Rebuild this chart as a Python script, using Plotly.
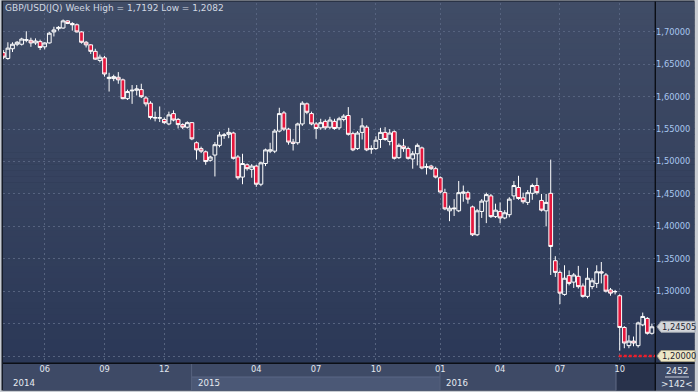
import plotly.graph_objects as go

# ---------------- data (weekly GBP/USD bars) ----------------
opens = [1.668,1.659,1.674,1.681,1.681,1.687,1.687,1.683,1.685,1.677,
         1.683,1.700,1.705,1.706,1.717,1.713,1.711,1.700,1.684,1.680,
         1.670,1.656,1.660,1.628,1.628,1.630,1.626,1.597,1.609,1.610,
         1.611,1.598,1.590,1.567,1.567,1.565,1.558,1.574,1.565,1.557,
         1.553,1.560,1.529,1.520,1.515,1.502,1.510,1.525,1.540,1.542,
         1.544,1.507,1.476,1.495,1.488,1.493,1.465,1.497,1.516,1.516,
         1.547,1.575,1.550,1.530,1.529,1.558,1.589,1.574,1.558,1.552,
         1.562,1.553,1.562,1.552,1.565,1.571,1.543,1.520,1.545,1.553,
         1.519,1.520,1.534,1.545,1.531,1.546,1.506,1.524,1.520,1.504,
         1.512,1.521,1.491,1.493,1.489,1.475,1.452,1.424,1.427,1.424,
         1.451,1.452,1.430,1.387,1.423,1.439,1.447,1.415,1.423,1.413,
         1.418,1.447,1.460,1.444,1.437,1.451,1.463,1.440,1.424,1.451,
         1.347,1.329,1.295,1.324,1.314,1.323,1.308,1.292,1.307,1.312,
         1.330,1.325,1.302,1.299,1.293,1.244,1.216,1.223,1.216,1.248,
         1.258,1.235]
highs = [1.672,1.684,1.684,1.686,1.691,1.701,1.691,1.690,1.688,1.684,
         1.700,1.708,1.709,1.7192,1.718,1.715,1.713,1.701,1.686,1.681,
         1.674,1.665,1.663,1.637,1.634,1.638,1.628,1.611,1.618,1.618,
         1.620,1.601,1.593,1.577,1.585,1.568,1.577,1.579,1.567,1.559,
         1.562,1.561,1.531,1.523,1.517,1.509,1.530,1.546,1.544,1.552,
         1.546,1.510,1.512,1.497,1.496,1.495,1.500,1.520,1.529,1.550,
         1.583,1.578,1.552,1.535,1.560,1.593,1.591,1.577,1.561,1.566,
         1.565,1.569,1.566,1.569,1.573,1.584,1.546,1.547,1.567,1.556,
         1.525,1.539,1.552,1.553,1.550,1.548,1.528,1.535,1.523,1.516,
         1.528,1.523,1.497,1.495,1.492,1.477,1.458,1.432,1.442,1.470,
         1.463,1.455,1.432,1.427,1.442,1.452,1.450,1.435,1.437,1.425,
         1.445,1.470,1.478,1.452,1.456,1.466,1.475,1.450,1.450,1.503,
         1.354,1.332,1.340,1.332,1.328,1.339,1.312,1.336,1.320,1.340,
         1.345,1.328,1.305,1.302,1.295,1.246,1.232,1.230,1.253,1.267,
         1.260,1.250]
lows = [1.658,1.657,1.669,1.678,1.679,1.684,1.677,1.680,1.672,1.673,
        1.682,1.693,1.702,1.705,1.712,1.702,1.699,1.682,1.676,1.666,
        1.657,1.653,1.631,1.608,1.624,1.620,1.596,1.595,1.589,1.602,
        1.598,1.585,1.565,1.562,1.561,1.558,1.556,1.562,1.551,1.550,
        1.551,1.533,1.503,1.513,1.495,1.500,1.477,1.522,1.535,1.536,
        1.503,1.472,1.465,1.486,1.475,1.461,1.462,1.493,1.513,1.513,
        1.545,1.547,1.526,1.517,1.526,1.555,1.573,1.556,1.535,1.549,
        1.549,1.550,1.549,1.549,1.562,1.540,1.516,1.518,1.534,1.516,
        1.512,1.518,1.521,1.532,1.525,1.503,1.504,1.515,1.503,1.489,
        1.494,1.488,1.480,1.487,1.474,1.451,1.425,1.408,1.416,1.422,
        1.438,1.435,1.385,1.385,1.413,1.405,1.413,1.413,1.405,1.411,
        1.414,1.441,1.441,1.435,1.433,1.441,1.449,1.423,1.400,1.325,
        1.322,1.280,1.293,1.309,1.305,1.304,1.290,1.289,1.303,1.305,
        1.312,1.298,1.293,1.295,1.2082,1.212,1.212,1.215,1.213,1.246,
        1.233,1.233]
closes = [1.661,1.675,1.681,1.684,1.689,1.688,1.683,1.686,1.676,1.683,
          1.698,1.703,1.707,1.717,1.713,1.711,1.700,1.684,1.680,1.670,
          1.658,1.661,1.635,1.630,1.631,1.626,1.597,1.608,1.610,1.612,
          1.600,1.589,1.568,1.568,1.5675,1.560,1.572,1.564,1.557,1.553,
          1.560,1.535,1.518,1.516,1.500,1.507,1.526,1.541,1.541,1.545,
          1.505,1.475,1.497,1.489,1.493,1.465,1.498,1.518,1.518,1.547,
          1.574,1.550,1.530,1.528,1.558,1.590,1.576,1.558,1.551,1.560,
          1.552,1.564,1.551,1.566,1.570,1.542,1.518,1.544,1.555,1.518,
          1.520,1.533,1.545,1.534,1.544,1.505,1.525,1.520,1.505,1.512,
          1.525,1.490,1.492,1.489,1.476,1.453,1.427,1.428,1.428,1.452,
          1.453,1.442,1.387,1.424,1.439,1.449,1.415,1.425,1.413,1.421,
          1.442,1.463,1.443,1.438,1.452,1.463,1.452,1.425,1.437,1.369,
          1.329,1.297,1.320,1.312,1.325,1.307,1.292,1.320,1.316,1.330,
          1.328,1.300,1.297,1.2995,1.244,1.220,1.223,1.220,1.251,1.261,
          1.235,1.24505]

month_tick_idx = [9, 22, 35, 55, 68, 81, 95, 108, 121, 134]
month_labels = ["06", "09", "12", "04", "07", "10", "01", "04", "07", "10"]
year_start_idx = [0, 41, 95]
year_labels = ["2014", "2015", "2016"]
price_ticks = [1.20, 1.25, 1.30, 1.35, 1.40, 1.45, 1.50, 1.55, 1.60, 1.65, 1.70]
alarm_level = 1.20
total_bars = 2452
symbol = "GBP/USD(JQ) Week"

# ---------------- geometry helpers ----------------
W, H = 698, 392
L, R, T, B = 3, 43, 3, 29
PW, PH = W - L - R, H - T - B
x_range = [-0.065, 141.67]
y_range = [1.1892, 1.7446]
FONT = "DejaVu Sans"

def xp(px):
    return (px - L) / PW

def yp(py):
    return 1 - (py - T) / PH

def fmt(v, d):
    return f"{v:.{d}f}".replace(".", ",")

def mix(c0, c1, a):
    return "rgb(%d,%d,%d)" % tuple(round(c0[i] + (c1[i] - c0[i]) * a) for i in range(3))

shapes = []
annotations = []

def rect(px0, py0, px1, py1, fill, layer="below", line=None):
    shapes.append(dict(type="rect", xref="paper", yref="paper",
                       x0=xp(px0), x1=xp(px1), y0=yp(py1), y1=yp(py0),
                       fillcolor=fill, line=dict(width=0) if line is None else line,
                       layer=layer))

def hline(px0, px1, py, color, width=1, layer="below", dash=None):
    shapes.append(dict(type="line", xref="paper", yref="paper",
                       x0=xp(px0), x1=xp(px1), y0=yp(py), y1=yp(py),
                       line=dict(color=color, width=width, dash=dash), layer=layer))

def vline(px, py0, py1, color, width=1, layer="below"):
    shapes.append(dict(type="line", xref="paper", yref="paper",
                       x0=xp(px), x1=xp(px), y0=yp(py0), y1=yp(py1),
                       line=dict(color=color, width=width), layer=layer))

# outer frame
rect(1.5, 0.5, 694.5, 390.5, "#141a27")
# vertical gradient over plot + price panel
top_c, bot_c = (64, 76, 102), (43, 56, 87)
n = 60
span = 363 - 1.5
for k in range(n):
    py0 = 1.5 + span * k / n
    py1 = 1.5 + span * (k + 1) / n + 0.6
    rect(3, py0, 694.5, min(py1, 363), mix(top_c, bot_c, (k + 0.5) / n))

# time axis band
rect(3, 363, 694.5, 390.5, "#3e4a66")
px_per_bar = PW / (x_range[1] - x_range[0])
def idx_px(i):
    return L + (i - x_range[0]) * px_per_bar
yb = [idx_px(i - 0.07) for i in year_start_idx] + [655]
yb[0] = 3
for k in range(len(year_labels)):
    if k % 2 == 1:
        rect(yb[k], 377, yb[k + 1], 390.5, "#4b5876")
        hline(yb[k], yb[k + 1], 377, "#5a6785")
    if k > 0:
        vline(yb[k], 363, 390.5, "#56627e")
# current-period box in the time band
rect(616, 363.5, 655, 390.5, "#28324b")
vline(616, 363.5, 390.5, "#606b86")

# separators
hline(3, 694.5, 363.2, "#0b0e15", 1.4)
vline(655.3, 1.5, 390.5, "#0b0e15", 1.4)

# corner counters
annotations.append(dict(text=str(total_bars), xref="paper", yref="paper",
                        x=xp(676.5), y=yp(370.5), showarrow=False,
                        xanchor="center", yanchor="middle",
                        font=dict(family=FONT, size=8.8, color="#e6eaf0")))
hline(665, 689, 377, "#c8ceda", 1)
annotations.append(dict(text=f"&gt;{len(closes)}&lt;", xref="paper", yref="paper",
                        x=xp(676.5), y=yp(383.5), showarrow=False,
                        xanchor="center", yanchor="middle",
                        font=dict(family=FONT, size=8.8, color="#e6eaf0")))

# year labels
for k, lab in enumerate(year_labels):
    annotations.append(dict(text=lab, xref="paper", yref="paper",
                            x=xp(yb[k]), y=yp(383.3), xshift=8 if k == 0 else 4,
                            showarrow=False, xanchor="left", yanchor="middle",
                            font=dict(family=FONT, size=8.6, color="#e6eaf0")))

# title
title = f"{symbol} High = {fmt(max(highs), 4)} Low = {fmt(min(lows), 4)}"
annotations.append(dict(text=title, xref="paper", yref="paper",
                        x=xp(3), y=yp(8.5), showarrow=False,
                        xanchor="left", yanchor="middle",
                        font=dict(family=FONT, size=9, color="#d2d8e2")))

# alarm line at 1.20
low_idx = lows.index(min(lows))
shapes.append(dict(type="line", xref="x", yref="y", x0=low_idx - 0.2, x1=x_range[1],
                   y0=alarm_level, y1=alarm_level,
                   line=dict(color="#f01c28", width=2.4, dash="3px,2px"), layer="above"))

# price tags on the axis
tag_prices = [closes[-1], alarm_level]
dy = 5.5 * (y_range[1] - y_range[0]) / PH
def tag(price, fill, border):
    x_tip, x0, x1 = xp(657), xp(661), xp(695)
    path = (f"M {x_tip},{price} L {x0},{price + dy} L {x1},{price + dy} "
            f"L {x1},{price - dy} L {x0},{price - dy} Z")
    shapes.append(dict(type="path", xref="paper", yref="y", path=path,
                       fillcolor=fill, line=dict(color=border, width=1), layer="above"))
    annotations.append(dict(text=fmt(price, 5), xref="paper", yref="y",
                            x=xp(678.5), y=price, showarrow=False,
                            xanchor="center", yanchor="middle",
                            font=dict(family=FONT, size=8.3, color="#1e2430")))

tag(tag_prices[0], "#d3d6da", "#9ea4ad")
tag(tag_prices[1], "#ece6c6", "#a8a288")

# axis labels that sit under a price tag are hidden by it
price_ticktext = ["" if any(abs(v - p) < 2 * dy for p in tag_prices) else fmt(v, 5)
                  for v in price_ticks]

fig = go.Figure(go.Candlestick(
    x=list(range(len(closes))), open=opens, high=highs, low=lows, close=closes,
    increasing=dict(line=dict(color="#ffffff", width=1), fillcolor="rgba(0,0,0,0)"),
    decreasing=dict(line=dict(color="#ffffff", width=1), fillcolor="#e5173d"),
    whiskerwidth=0, hoverinfo="skip", showlegend=False,
))

grid = dict(showgrid=True, gridcolor="#56637f", gridwidth=1, griddash="2px,3px",
            zeroline=False, showline=False, ticks="", fixedrange=True, automargin=False)

fig.update_layout(
    width=W, height=H, margin=dict(l=L, r=R, t=T, b=B, pad=0, autoexpand=False),
    paper_bgcolor="#c8ccd2", plot_bgcolor="rgba(0,0,0,0)",
    separators=",.", boxgap=0.1, boxgroupgap=0.1,
    shapes=shapes, annotations=annotations, showlegend=False,
    xaxis=dict(range=x_range, tickmode="array", tickvals=month_tick_idx, ticktext=month_labels,
               tickfont=dict(family=FONT, size=8.3, color="#e2e7ef"),
               rangeslider=dict(visible=False), **grid),
    yaxis=dict(range=y_range, side="right", tickmode="array", tickvals=price_ticks,
               ticktext=price_ticktext,
               tickfont=dict(family=FONT, size=8.3, color="#a8c6ee"),
               **grid),
)

fig.write_html("out.html", config={"displayModeBar": False},
               post_script="document.body.style.margin='0';document.body.style.overflow='hidden';")
